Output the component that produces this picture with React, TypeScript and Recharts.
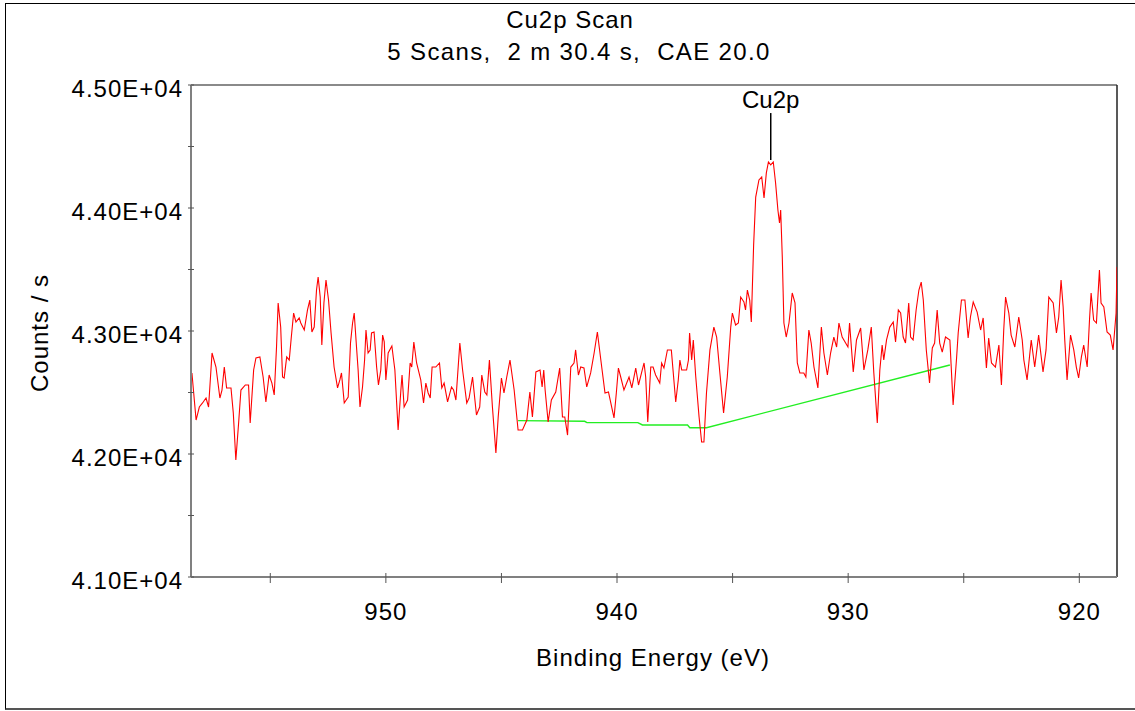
import { Line, LineChart, ReferenceLine, XAxis, YAxis } from "recharts";

// Cu2p narrow scan, binding energy (eV) vs counts/s
const bindingEnergy = [
  958.39, 958.21, 958.07, 957.93, 957.78, 957.67, 957.52, 957.35, 957.18, 957.09,
  956.99, 956.89, 956.7, 956.6, 956.49, 956.37, 956.27, 956.08, 955.94, 955.87,
  955.72, 955.62, 955.45, 955.31, 955.19, 955.05, 954.93, 954.83, 954.73, 954.66,
  954.55, 954.47, 954.4, 954.29, 954.18, 954.09, 953.99, 953.89, 953.75, 953.68,
  953.53, 953.39, 953.29, 953.2, 953.1, 953.0, 952.93, 952.84, 952.77, 952.68,
  952.59, 952.48, 952.37, 952.24, 952.09, 951.99, 951.92, 951.8, 951.63, 951.53,
  951.44, 951.37, 951.27, 951.2, 951.12, 951.01, 950.92, 950.86, 950.77, 950.68,
  950.62, 950.51, 950.4, 950.32, 950.22, 950.14, 950.07, 950.0, 949.9, 949.74,
  949.61, 949.47, 949.35, 949.3, 949.21, 949.06, 948.95, 948.88, 948.79, 948.67,
  948.49, 948.37, 948.27, 948.17, 948.08, 948.0, 947.84, 947.68, 947.58, 947.48,
  947.33, 947.16, 947.07, 946.97, 946.8, 946.68, 946.5, 946.4, 946.25, 946.08,
  945.94, 945.85, 945.72, 945.63, 945.52, 945.39, 945.24, 945.14, 945.0, 944.89,
  944.77, 944.63, 944.45, 944.28, 944.09, 943.9, 943.77, 943.66, 943.51, 943.33,
  943.24, 943.17, 943.11, 942.98, 942.84, 942.65, 942.48, 942.36, 942.26, 942.14,
  942.0, 941.86, 941.79, 941.67, 941.57, 941.43, 941.31, 941.14, 940.99, 940.85,
  940.7, 940.52, 940.37, 940.23, 940.13, 940.03, 939.94, 939.84, 939.7, 939.48,
  939.36, 939.19, 939.07, 938.94, 938.83, 938.76, 938.67, 938.54, 938.44, 938.33,
  938.15, 938.07, 937.97, 937.82, 937.65, 937.46, 937.35, 937.28, 937.2, 936.99,
  936.91, 936.86, 936.77, 936.7, 936.6, 936.45, 936.34, 936.24, 936.13, 935.98,
  935.81, 935.69, 935.55, 935.39, 935.23, 935.08, 935.01, 934.87, 934.75, 934.65,
  934.51, 934.44, 934.36, 934.26, 934.19, 934.09, 934.0, 933.86, 933.74, 933.64,
  933.54, 933.45, 933.35, 933.24, 933.14, 933.04, 932.97, 932.92, 932.85, 932.78,
  932.68, 932.56, 932.42, 932.3, 932.2, 932.09, 931.92, 931.83, 931.7, 931.6,
  931.48, 931.31, 931.16, 931.05, 930.9, 930.76, 930.62, 930.5, 930.4, 930.26,
  930.11, 930.01, 929.94, 929.78, 929.64, 929.46, 929.32, 929.15, 929.0, 928.89,
  928.74, 928.63, 928.53, 928.46, 928.34, 928.2, 928.05, 927.95, 927.83, 927.73,
  927.62, 927.52, 927.38, 927.3, 927.19, 927.06, 926.94, 926.84, 926.75, 926.62,
  926.48, 926.36, 926.26, 926.15, 926.04, 925.93, 925.79, 925.6, 925.46, 925.31,
  925.24, 925.1, 924.95, 924.81, 924.71, 924.59, 924.42, 924.27, 924.16, 924.02,
  923.92, 923.8, 923.63, 923.48, 923.37, 923.27, 923.19, 923.05, 922.95, 922.79,
  922.62, 922.47, 922.4, 922.26, 922.08, 921.93, 921.76, 921.57, 921.44, 921.32,
  921.13, 920.99, 920.89, 920.79, 920.7, 920.63, 920.53, 920.38, 920.24, 920.13,
  920.03, 919.91, 919.81, 919.66, 919.56, 919.49, 919.38, 919.26, 919.13, 919.06,
  918.94, 918.8, 918.66, 918.54, 918.48, 918.41, 918.37,
];

const counts = [
  42659, 42276, 42382, 42415, 42455, 42382, 42821, 42707, 42455, 42520,
  42707, 42537, 42537, 42333, 41951, 42252, 42520, 42561, 42561, 42252,
  42683, 42781, 42789, 42626, 42423, 42642, 42577, 42480, 42870, 43228,
  43032, 42626, 42618, 42789, 42764, 42951, 43146, 43073, 43106, 43065,
  43008, 43171, 43252, 42992, 43032, 43333, 43439, 43276, 42886, 43228,
  43415, 43252, 42984, 42707, 42537, 42602, 42659, 42415, 42463, 42902,
  43065, 43146, 42870, 42683, 42382, 42545, 42764, 43008, 42821, 42846,
  42984, 42992, 42707, 42561, 42683, 42967, 42911, 42602, 42821, 42878,
  42683, 42195, 42520, 42642, 42382, 42439, 42740, 42707, 42911, 42740,
  42602, 42415, 42577, 42496, 42455, 42707, 42707, 42740, 42537, 42577,
  42423, 42545, 42520, 42439, 42902, 42683, 42415, 42455, 42626, 42317,
  42382, 42642, 42504, 42480, 42764, 42382, 42008, 42301, 42618, 42496,
  42626, 42764, 42520, 42195, 42195, 42276, 42504, 42301, 42667, 42683,
  42545, 42683, 42520, 42260, 42439, 42504, 42699, 42301, 42301, 42154,
  42707, 42740, 42846, 42642, 42707, 42699, 42545, 42659, 42821, 42992,
  42764, 42496, 42504, 42382, 42293, 42496, 42699, 42626, 42520, 42626,
  42537, 42699, 42561, 42659, 42740, 42626, 42260, 42707, 42707, 42642,
  42577, 42740, 42699, 42846, 42846, 42423, 42602, 42764, 42683, 42683,
  42764, 42984, 42764, 42927, 42642, 42301, 42098, 42098, 42496, 42846,
  43032, 42951, 42659, 42333, 42626, 43032, 43146, 43049, 43065, 43276,
  43236, 43171, 43333, 43252, 43073, 43699, 44089, 44228, 44252, 44081,
  44285, 44374, 44350, 44374, 44203, 43984, 43878, 43984, 43602, 43065,
  42951, 43065, 43309, 43228, 42740, 42659, 42659, 42626, 43008, 42902,
  42707, 42537, 43032, 42821, 42642, 42821, 42951, 42870, 43065, 42951,
  42902, 42870, 43065, 42667, 42927, 43024, 42683, 42846, 43032, 42659,
  42252, 42683, 42886, 42764, 42927, 43032, 43073, 42911, 43171, 43146,
  42951, 42902, 43228, 42951, 42927, 43171, 43333, 43398, 43252, 42846,
  42577, 42862, 42902, 43171, 42902, 42829, 42951, 42927, 42398, 42781,
  42984, 43252, 43252, 42943, 43114, 43236, 43154, 43008, 43106, 42699,
  42943, 42740, 42707, 42886, 42561, 43008, 43276, 43146, 42967, 42870,
  43114, 42927, 42764, 42602, 42927, 42707, 42967, 42667, 42846, 43276,
  43228, 42984, 43114, 43415, 43195, 42927, 42602, 42967, 42846, 42707,
  42618, 42789, 42886, 42707, 43089, 43309, 43089, 43065, 43496, 43228,
  43195, 42992, 42967, 42846, 42984, 43146, 43520,
];

// fitted background under the peak region
const bgEnergy = [944.28, 941.4, 941.3, 939.1, 938.9, 936.95, 936.85, 936.13, 925.6];
const bgCounts = [42271, 42266, 42255, 42255, 42236, 42236, 42214, 42214, 42724];

const xTicks = [955, 950, 945, 940, 935, 930, 925, 920];
const yTicks = [41000, 41500, 42000, 42500, 43000, 43500, 44000, 44500, 45000];
const xDomain: [number, number] = [918.37, 958.43];
const yDomain: [number, number] = [41000, 45000];

const peakName = "Cu2p";
const peakEnergy = 933.35;
const peakMarker = [44390, 44772];

const titleText = "Cu2p Scan";
const subtitleText = "5 Scans,  2 m 30.4 s,  CAE 20.0";
const xLabel = "Binding Energy (eV)";
const yLabel = "Counts / s";

const spectrum = bindingEnergy.map((be, i) => ({ be, counts: counts[i] }));
const background = bgEnergy.map((be, i) => ({ be, counts: bgCounts[i] }));

const FONT = "'Liberation Sans', Arial, sans-serif";

const formatCounts = (v: number) => (v / 10000).toFixed(2) + "E+04";

function XTick(props: any) {
  const { x, y, payload } = props;
  const v = payload.value;
  return (
    <g>
      <line x1={x} x2={x} y1={y - 4} y2={y + 6} stroke="#555" strokeWidth={1} />
      {v % 10 === 0 && (
        <text x={x} y={y + 43} textAnchor="middle" fontSize={24} fill="#000" fontFamily={FONT} letterSpacing={1}>
          {v}
        </text>
      )}
    </g>
  );
}

function YTick(props: any) {
  const { x, y, payload } = props;
  const v = payload.value;
  return (
    <g>
      <line x1={x - 3} x2={x + 3} y1={y} y2={y} stroke="#555" strokeWidth={1} />
      {v % 1000 === 0 && (
        <text x={x - 8} y={y + 12} textAnchor="end" fontSize={24} fill="#000" fontFamily={FONT} letterSpacing={1}>
          {formatCounts(v)}
        </text>
      )}
    </g>
  );
}

export default function App() {
  return (
    <div style={{ position: "absolute", left: 0, top: 0, width: 1135, height: 711, overflow: "hidden", background: "#fff" }}>
      <div
        style={{
          position: "absolute",
          left: 5,
          top: 3,
          width: 1140,
          height: 704,
          borderLeft: "1px solid #000",
          borderTop: "1px solid #000",
          borderBottom: "2px solid #555",
        }}
      />
      <LineChart
        width={1135}
        height={711}
        margin={{ top: 85, right: 18, left: 0, bottom: 0 }}
        style={{ position: "absolute", left: 0, top: 0 }}
      >
        <XAxis
          dataKey="be"
          type="number"
          domain={xDomain}
          reversed
          allowDataOverflow
          ticks={xTicks}
          interval={0}
          height={134}
          tickSize={0}
          tickMargin={0}
          tickLine={false}
          tick={<XTick />}
          axisLine={{ stroke: "#808080", strokeWidth: 2 }}
        />
        <YAxis
          type="number"
          domain={yDomain}
          allowDataOverflow
          ticks={yTicks}
          interval={0}
          width={191}
          tickSize={0}
          tickMargin={0}
          tickLine={false}
          tick={<YTick />}
          axisLine={{ stroke: "#808080", strokeWidth: 2 }}
        />
        <ReferenceLine y={yDomain[1]} stroke="#8a8a8a" strokeWidth={2} />
        <ReferenceLine x={xDomain[0]} stroke="#222" strokeWidth={1.5} />
        <Line
          data={background}
          dataKey="counts"
          type="linear"
          stroke="#22ee22"
          strokeWidth={1.4}
          dot={false}
          isAnimationActive={false}
        />
        <Line
          data={spectrum}
          dataKey="counts"
          type="linear"
          stroke="#ff0000"
          strokeWidth={1.1}
          dot={false}
          isAnimationActive={false}
        />
        <ReferenceLine
          segment={[
            { x: peakEnergy, y: peakMarker[0] },
            { x: peakEnergy, y: peakMarker[1] },
          ]}
          stroke="#000"
          strokeWidth={1.5}
          label={{ value: peakName, position: "top", offset: 5, fontSize: 24, fill: "#000", fontFamily: FONT }}
        />
      </LineChart>
      <svg width={1135} height={711} style={{ position: "absolute", left: 0, top: 0, pointerEvents: "none" }}>
        <g fontFamily={FONT} fontSize={24} fill="#000" letterSpacing={1}>
          <text x={570} y={28} textAnchor="middle">
            {titleText}
          </text>
          <text x={579} y={60} textAnchor="middle" letterSpacing={1.35} style={{ whiteSpace: "pre" }}>
            {subtitleText}
          </text>
          <text x={653} y={666} textAnchor="middle">
            {xLabel}
          </text>
          <text x={48} y={333} textAnchor="middle" transform="rotate(-90 48 333)">
            {yLabel}
          </text>
        </g>
      </svg>
    </div>
  );
}
